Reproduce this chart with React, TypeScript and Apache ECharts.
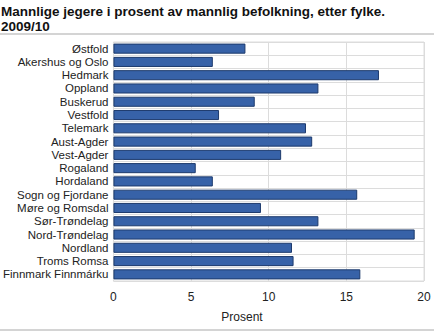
import React, { useEffect, useRef } from "react";
import * as echarts from "echarts";

const categories = [
  "Østfold",
  "Akershus og Oslo",
  "Hedmark",
  "Oppland",
  "Buskerud",
  "Vestfold",
  "Telemark",
  "Aust-Agder",
  "Vest-Agder",
  "Rogaland",
  "Hordaland",
  "Sogn og Fjordane",
  "Møre og Romsdal",
  "Sør-Trøndelag",
  "Nord-Trøndelag",
  "Nordland",
  "Troms Romsa",
  "Finnmark Finnmárku",
];

const values = [8.5, 6.4, 17.1, 13.2, 9.1, 6.8, 12.4, 12.8, 10.8, 5.3, 6.4, 15.7, 9.5, 13.2, 19.4, 11.5, 11.6, 15.9];

const titleLines = ["Mannlige jegere i prosent av mannlig befolkning, etter fylke.", "2009/10"];
const xAxisName = "Prosent";

export default function App() {
  const ref = useRef<HTMLDivElement>(null);
  useEffect(() => {
    if (!ref.current) return;
    const chart = echarts.init(ref.current, null, { renderer: "svg" });
    const font = "'Liberation Sans', Arial, sans-serif";
    chart.setOption({
      animation: false,
      textStyle: { fontFamily: font },
      graphic: [
        {
          type: "text",
          x: 1,
          y: 11,
          style: { text: titleLines[0], fill: "#111", font: `bold 13.5px ${font}`, verticalAlign: "middle" },
        },
        {
          type: "text",
          x: 1,
          y: 26,
          style: { text: titleLines[1], fill: "#111", font: `bold 13.5px ${font}`, verticalAlign: "middle" },
        },
        { type: "rect", shape: { x: 0, y: 33, width: 434, height: 2 }, style: { fill: "#d4d4d4" } },
        { type: "rect", shape: { x: 0, y: 329, width: 434, height: 2 }, style: { fill: "#d4d4d4" } },
        {
          type: "text",
          x: 242,
          y: 317,
          style: { text: xAxisName, fill: "#222", font: `12px ${font}`, align: "center", verticalAlign: "middle" },
        },
      ],
      grid: { left: 113, right: 10, top: 42, bottom: 50, show: true, borderColor: "#dcdcdc", borderWidth: 1 },
      xAxis: {
        type: "value",
        min: 0,
        max: 20,
        interval: 5,
        axisLine: { show: false },
        axisTick: { show: false },
        axisLabel: { color: "#222", fontSize: 12, margin: 10, fontFamily: font },
        splitLine: { show: true, lineStyle: { color: "#dcdcdc", width: 1 } },
      },
      yAxis: {
        type: "category",
        data: categories,
        inverse: true,
        axisLine: { show: false },
        axisTick: { show: false },
        axisLabel: { color: "#222", fontSize: 11.5, margin: 5, interval: 0, fontFamily: font },
        splitLine: { show: true, interval: 0, lineStyle: { color: "#dcdcdc", width: 1 } },
      },
      series: [
        {
          type: "bar",
          data: values,
          barCategoryGap: "24%",
          itemStyle: { color: "#3762a8", borderColor: "#1d3a6c", borderWidth: 1 },
        },
      ],
    });
    return () => chart.dispose();
  }, []);
  return <div ref={ref} style={{ width: 434, height: 331, position: "absolute", left: 0, top: 0 }} />;
}
